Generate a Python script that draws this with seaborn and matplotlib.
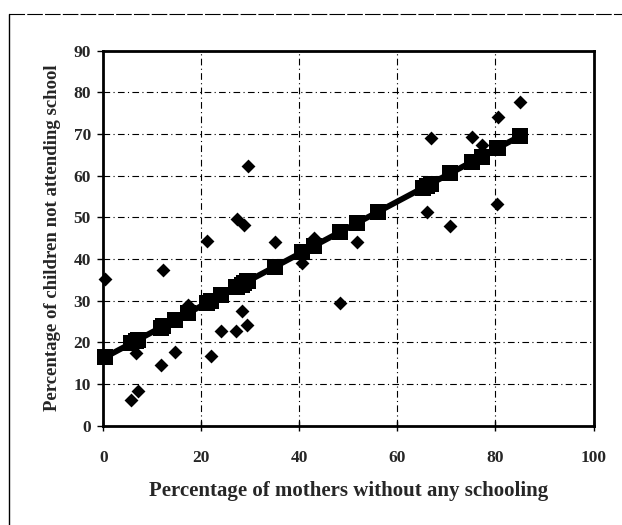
import numpy as np
import pandas as pd
import matplotlib
matplotlib.use("Agg")
import matplotlib.pyplot as plt
from matplotlib.lines import Line2D
import seaborn as sns

# Observed values per district (%)
mothers_no_school = [0.3, 5.7, 7.0, 6.7, 11.7, 12.2, 14.6, 17.3, 21.2, 22.0,
                     24.0, 27.1, 27.2, 28.6, 28.2, 29.4, 29.6, 35.0, 40.5, 43.0,
                     48.2, 51.7, 56.0, 65.3, 66.0, 66.8, 70.8, 75.3, 77.2, 80.3,
                     80.6, 85.0]
children_not_attending = [35.1, 6.1, 8.4, 17.3, 14.5, 37.3, 17.6, 29.0, 44.3, 16.7,
                          22.8, 22.8, 49.6, 48.1, 27.6, 24.2, 62.3, 44.0, 39.0, 45.0,
                          29.5, 44.0, 51.5, 57.5, 51.3, 69.0, 48.0, 69.2, 67.4, 53.1,
                          74.2, 77.8]

x_ticks = [0, 20, 40, 60, 80, 100]
y_ticks = [0, 10, 20, 30, 40, 50, 60, 70, 80, 90]

x_label = "Percentage of mothers without any schooling"
y_label = "Percentage of children not attending school"

sns.set_theme(style="white")
plt.rcParams["font.family"] = ["Liberation Serif", "DejaVu Serif"]
plt.rcParams["font.weight"] = "bold"

df = pd.DataFrame({"mothers": mothers_no_school,
                   "children": children_not_attending})
# Least-squares line, evaluated at every observed x
slope, intercept = np.polyfit(df["mothers"], df["children"], 1)
df["predicted"] = intercept + slope * df["mothers"]

fig = plt.figure(figsize=(6.22, 5.25), dpi=100)
ax = fig.add_axes([0.1661, 0.1895, 0.7881, 0.7139])

sns.scatterplot(data=df, x="mothers", y="children", marker="D", s=50,
                color="black", edgecolor="black", linewidth=0, ax=ax,
                clip_on=False, zorder=3, legend=False)
sns.lineplot(data=df, x="mothers", y="predicted", estimator=None, sort=True,
             marker="s", markersize=11, markeredgewidth=0, color="black",
             linewidth=4.2, ax=ax, clip_on=False, zorder=4, legend=False)

ax.set_xlim(0, 100)
ax.set_ylim(0, 90)
ax.set_xticks(x_ticks)
ax.set_yticks(y_ticks)
ax.set_xticklabels([str(v) for v in x_ticks])
ax.set_yticklabels([str(v) for v in y_ticks])

ax.grid(True, color="black", linestyle=(0, (6, 3, 1, 3)), linewidth=0.8)
ax.set_axisbelow(True)
for sp in ax.spines.values():
    sp.set_visible(True)
    sp.set_color("black")
    sp.set_linewidth(2)

ax.tick_params(axis="y", direction="out", length=4, width=1, color="black",
               labelsize=12.5, pad=5, left=True)
ax.tick_params(axis="x", direction="inout", length=7, width=1, color="black",
               labelsize=12.5, pad=14, bottom=True)
for lab in ax.get_xticklabels() + ax.get_yticklabels():
    lab.set_fontweight("bold")

ax.set_xlabel(x_label, fontsize=15, fontweight="bold", labelpad=11)
ax.set_ylabel(y_label, fontsize=13.5, fontweight="bold", labelpad=9)

# Outer chart-area border (top and left edges)
fig.add_artist(Line2D([0.0137, 1.0], [0.9733, 0.9733], transform=fig.transFigure,
                      color="black", linewidth=0.8, linestyle=(0, (14, 2))))
fig.add_artist(Line2D([0.0137, 0.0137], [0.0, 0.9733], transform=fig.transFigure,
                      color="black", linewidth=1.0))

fig.savefig("out.png", dpi=100, facecolor="white")
